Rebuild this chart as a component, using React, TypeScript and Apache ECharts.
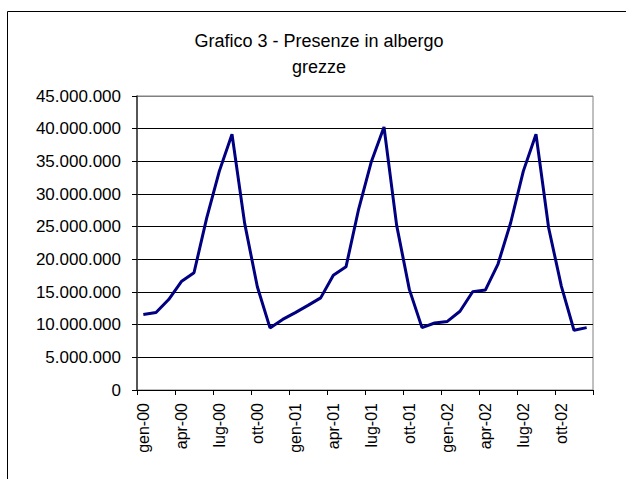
import React, { useEffect, useRef } from "react";
import * as echarts from "echarts";

const monthNames = ["gen", "feb", "mar", "apr", "mag", "giu", "lug", "ago", "set", "ott", "nov", "dic"];
const years = ["00", "01", "02"];
const categories: string[] = years.flatMap((y) => monthNames.map((m) => `${m}-${y}`));

// Presenze in albergo (grezze), monthly values
const presenze2000 = [
  11540000, 11850000, 13850000, 16600000, 17950000, 26300000,
  33500000, 39150000, 25500000, 15800000, 9500000, 10800000,
];
const presenze2001 = [
  11850000, 12950000, 14100000, 17550000, 18850000, 27700000,
  34950000, 40250000, 25200000, 15400000, 9550000, 10250000,
];
const presenze2002 = [
  10500000, 12050000, 15030000, 15300000, 19280000, 25600000,
  33500000, 39150000, 24800000, 15900000, 9150000, 9550000,
];
const seriesValues = [...presenze2000, ...presenze2001, ...presenze2002];

const yMin = 0;
const yMax = 45000000;
const yInterval = 5000000;

const titleLines = ["Grafico 3 - Presenze in albergo", "grezze"];

const fmt = (v: number) => String(Math.round(v)).replace(/\B(?=(\d{3})+(?!\d))/g, ".");

export default function App() {
  const ref = useRef<HTMLDivElement>(null);
  useEffect(() => {
    if (!ref.current) return;
    const chart = echarts.init(ref.current, null, { renderer: "svg" });
    const splitColors = ["#000", "#000", "#000", "#000", "#000", "#000", "#000", "#000", "#000", "#808080"];
    chart.setOption({
      animation: false,
      backgroundColor: "#fff",
      textStyle: { fontFamily: "Liberation Sans, Arial, sans-serif" },
      graphic: [
        {
          type: "rect",
          shape: { x: 7.5, y: 11.5, width: 700, height: 600 },
          style: { fill: "none", stroke: "#000", lineWidth: 1 },
          silent: true,
        },
        {
          type: "text",
          x: 319,
          y: 40.5,
          style: {
            text: titleLines[0],
            fontSize: 18,
            fontFamily: "Liberation Sans, Arial, sans-serif",
            fill: "#000",
            textAlign: "center",
            textVerticalAlign: "middle",
          },
        },
        {
          type: "text",
          x: 319,
          y: 67,
          style: {
            text: titleLines[1],
            fontSize: 18,
            fontFamily: "Liberation Sans, Arial, sans-serif",
            fill: "#000",
            textAlign: "center",
            textVerticalAlign: "middle",
          },
        },
      ],
      grid: {
        left: 137,
        top: 96,
        right: 33,
        bottom: 89,
        containLabel: false,
        outerBoundsMode: "none",
        show: true,
        borderColor: "#808080",
        borderWidth: 1,
        backgroundColor: "#fff",
      },
      xAxis: {
        type: "category",
        data: categories,
        boundaryGap: true,
        axisLine: { show: true, lineStyle: { color: "#000", width: 1 } },
        axisTick: { show: true, interval: 2, length: 5, inside: false, lineStyle: { color: "#000" } },
        axisLabel: {
          interval: 2,
          rotate: 90,
          fontSize: 16,
          color: "#000",
          margin: 13,
          fontFamily: "Liberation Sans, Arial, sans-serif",
        },
        splitLine: { show: false },
      },
      yAxis: {
        type: "value",
        min: yMin,
        max: yMax,
        interval: yInterval,
        axisLine: { show: true, lineStyle: { color: "#333", width: 1.5 } },
        axisTick: { show: true, length: 5, inside: false, lineStyle: { color: "#000" } },
        axisLabel: {
          formatter: (v: number) => fmt(v),
          fontSize: 17,
          color: "#000",
          margin: 16,
          fontFamily: "Liberation Sans, Arial, sans-serif",
        },
        splitLine: { show: true, lineStyle: { color: splitColors, width: 1 } },
      },
      series: [
        {
          type: "line",
          data: seriesValues,
          symbol: "none",
          lineStyle: { color: "#000080", width: 3 },
          itemStyle: { color: "#000080" },
        },
      ],
    });
    return () => chart.dispose();
  }, []);
  return (
    <div
      ref={ref}
      style={{ position: "absolute", left: 0, top: 0, width: 626, height: 479 }}
    />
  );
}
